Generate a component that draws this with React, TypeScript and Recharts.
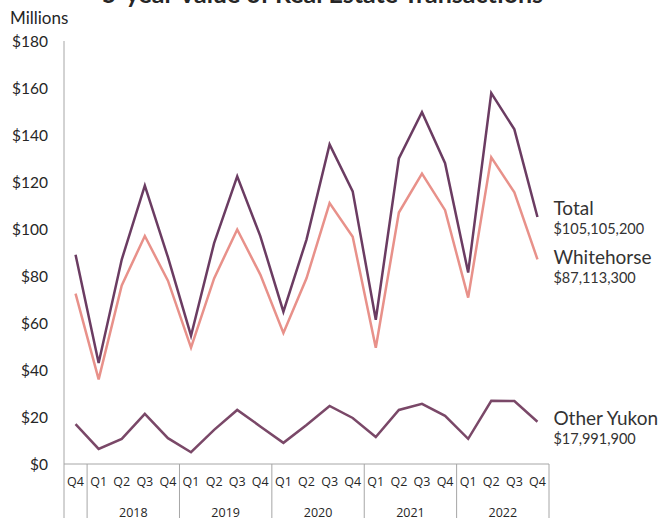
import React from 'react';
import { LineChart, Line, XAxis, YAxis } from 'recharts';

const quarters = ['Q4', 'Q1', 'Q2', 'Q3', 'Q4', 'Q1', 'Q2', 'Q3', 'Q4', 'Q1', 'Q2', 'Q3', 'Q4', 'Q1', 'Q2', 'Q3', 'Q4', 'Q1', 'Q2', 'Q3', 'Q4'];
const years = ['2017', '2018', '2018', '2018', '2018', '2019', '2019', '2019', '2019', '2020', '2020', '2020', '2020', '2021', '2021', '2021', '2021', '2022', '2022', '2022', '2022'];

const total = [89, 43, 87, 118.5, 88, 54.6, 94, 122.4, 97, 64.8, 95.5, 136, 116, 61.4, 130, 149.7, 128, 81.5, 157.8, 142.4, 105.1];
const whitehorse = [72.5, 36, 76, 97, 78, 49.5, 79, 99.8, 80.6, 55.8, 79, 111, 96.7, 49.5, 107, 123.6, 108, 70.8, 130.5, 115.6, 87.1];
const otherYukon = [17, 6.4, 10.7, 21.3, 11, 5, 14.5, 23, 16, 9, 16.6, 24.7, 19.6, 11.5, 23, 25.6, 20.5, 10.7, 26.9, 26.8, 18];

const yTicks = [0, 20, 40, 60, 80, 100, 120, 140, 160, 180];

const seriesInfo = [
  { key: 'total', name: 'Total', amount: '$105,105,200', color: '#6B3C62', dy: -9 },
  { key: 'whitehorse', name: 'Whitehorse', amount: '$87,113,300', color: '#E8918A', dy: -2 },
  { key: 'otherYukon', name: 'Other Yukon', amount: '$17,991,900', color: '#7A4868', dy: -4 },
];

const data = quarters.map((q, i) => ({
  id: `${years[i]}-${q}`,
  q,
  year: years[i],
  total: total[i],
  whitehorse: whitehorse[i],
  otherYukon: otherYukon[i],
}));

const W = 671;
const H = 518;
const margin = { top: 41, right: 122, bottom: 0, left: 8 };
const Y_AXIS_W = 56;
const X_AXIS_H = 54;
const PLOT_W = W - margin.left - Y_AXIS_W - margin.right;
const BAND = PLOT_W / quarters.length;
const AXIS_GREY = '#a6a6a6';
const TEXT = '#262626';

// the tick's y sits 8px below the axis line (tick size + margin)
const QuarterTick = ({ x, y, index }: any) => {
  const d = data[index];
  const half = BAND / 2;
  const axisY = y - 8;
  const isYearEnd = d.q === 'Q4';
  const isMid = d.q === 'Q2';
  return (
    <g>
      <text x={x} y={axisY + 22} textAnchor="middle" fontSize={12.5} fontFamily="'Open Sans', sans-serif" fill={TEXT}>
        {d.q}
      </text>
      {index === 0 && <line x1={x - half} x2={x - half} y1={axisY} y2={H} stroke={AXIS_GREY} />}
      {isYearEnd && <line x1={x + half} x2={x + half} y1={axisY} y2={H} stroke={AXIS_GREY} />}
      {isMid && (
        <text x={x + half} y={axisY + 53} textAnchor="middle" fontSize={12.5} fontFamily="'Open Sans', sans-serif" fill={TEXT}>
          {d.year}
        </text>
      )}
    </g>
  );
};

const endLabel = (info: typeof seriesInfo[number]) => (props: any) => {
  const { x, y, index } = props;
  if (index !== data.length - 1) return null;
  return (
    <g>
      <text x={x + 16} y={y + info.dy + 7} fontSize={19} fontFamily="Lato, sans-serif" fill="#333">
        {info.name}
      </text>
      <text x={x + 16} y={y + info.dy + 26} fontSize={14.5} fontFamily="Lato, sans-serif" fill="#333">
        {info.amount}
      </text>
    </g>
  );
};

export default function App() {
  return (
    <div style={{ position: 'absolute', left: 0, top: 0, width: W, height: H, background: '#fff', overflow: 'hidden', fontFamily: 'Lato, sans-serif' }}>
      <div style={{ position: 'absolute', left: 0, width: W - 26, top: -22, textAlign: 'center', fontSize: 25, fontWeight: 700, color: TEXT, whiteSpace: 'nowrap' }}>
        5-year Value of Real Estate Transactions
      </div>
      <div style={{ position: 'absolute', left: 10, top: 7, fontSize: 17, color: TEXT }}>Millions</div>
      <LineChart width={W} height={H} data={data} margin={margin}>
        <XAxis
          dataKey="id"
          interval={0}
          tickLine={false}
          axisLine={{ stroke: AXIS_GREY }}
          tick={<QuarterTick />}
          padding={{ left: BAND / 2, right: BAND / 2 }}
          height={X_AXIS_H}
        />
        <YAxis
          domain={[0, 180]}
          ticks={yTicks}
          width={Y_AXIS_W}
          tickLine={false}
          tickMargin={10}
          axisLine={{ stroke: AXIS_GREY }}
          tick={{ fill: TEXT, fontSize: 15.5, fontFamily: 'Lato, sans-serif' }}
          tickFormatter={(v: number) => `$${v}`}
        />
        {seriesInfo.map(info => (
          <Line
            key={info.key}
            type="linear"
            dataKey={info.key}
            stroke={info.color}
            strokeWidth={2.5}
            dot={false}
            isAnimationActive={false}
            label={endLabel(info)}
          />
        ))}
      </LineChart>
    </div>
  );
}
